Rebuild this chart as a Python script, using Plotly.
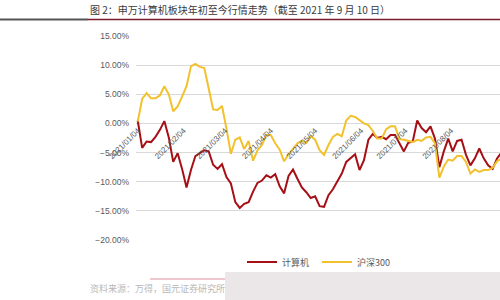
import plotly.graph_objects as go

dates = [
    "2021-01-04", "2021-01-07", "2021-01-10", "2021-01-13", "2021-01-16", "2021-01-19",
    "2021-01-22", "2021-01-25", "2021-01-28", "2021-01-31", "2021-02-03", "2021-02-06",
    "2021-02-09", "2021-02-12", "2021-02-15", "2021-02-18", "2021-02-21", "2021-02-24",
    "2021-02-27", "2021-03-02", "2021-03-05", "2021-03-08", "2021-03-11", "2021-03-14",
    "2021-03-17", "2021-03-20", "2021-03-23", "2021-03-26", "2021-03-29", "2021-04-01",
    "2021-04-04", "2021-04-07", "2021-04-10", "2021-04-13", "2021-04-16", "2021-04-19",
    "2021-04-22", "2021-04-25", "2021-04-28", "2021-05-01", "2021-05-04", "2021-05-07",
    "2021-05-10", "2021-05-13", "2021-05-16", "2021-05-19", "2021-05-22", "2021-05-25",
    "2021-05-28", "2021-05-31", "2021-06-03", "2021-06-06", "2021-06-09", "2021-06-12",
    "2021-06-15", "2021-06-18", "2021-06-21", "2021-06-24", "2021-06-27", "2021-06-30",
    "2021-07-03", "2021-07-06", "2021-07-09", "2021-07-12", "2021-07-15", "2021-07-18",
    "2021-07-21", "2021-07-24", "2021-07-27", "2021-07-30", "2021-08-02", "2021-08-05",
    "2021-08-08", "2021-08-11", "2021-08-14", "2021-08-17", "2021-08-20", "2021-08-23",
    "2021-08-26", "2021-08-29", "2021-09-01", "2021-09-04", "2021-09-07", "2021-09-10",
]

computer = [
    0.5, -4.2, -3.1, -3.2, -2.3, -1.1, 0.4, -2.4, -6.6, -5.1, -7.8, -11.0,
    -8.0, -5.6, -5.1, -4.6, -4.8, -7.1, -7.8, -7.0, -9.2, -10.3, -13.5, -14.5,
    -13.8, -13.5, -11.7, -10.2, -9.8, -8.9, -9.3, -8.7, -10.8, -12.0, -9.0, -7.9,
    -9.5, -11.0, -11.8, -12.8, -12.5, -14.2, -14.3, -12.3, -11.3, -10.0, -8.6, -6.6,
    -6.0, -5.3, -8.0, -6.3, -2.8, -1.8, -2.5, -2.3, -2.7, -2.0, -2.0, -3.4,
    -4.8, -3.3, -3.1, 0.5, -0.8, -1.5, -0.5, -2.6, -7.5, -4.8, -2.6, -4.8,
    -3.0, -2.8, -5.4, -7.2, -6.0, -4.3, -6.0, -7.2, -7.8, -6.0, -5.0, -4.5,
]

hs300 = [
    0.3, 4.2, 5.2, 4.3, 4.3, 4.8, 6.4, 5.0, 2.1, 2.9, 4.6, 6.4,
    9.8, 10.2, 9.7, 9.5, 6.0, 2.4, 2.3, 3.0, -0.9, -5.2, -2.8, -2.4,
    -4.4, -3.0, -6.4, -4.6, -3.7, -2.0, -2.0, -3.4, -4.5, -6.5, -5.3, -4.4,
    -3.4, -3.0, -3.3, -2.2, -2.8, -4.6, -5.4, -3.7, -2.3, -1.8, -2.2, 0.5,
    1.3, 1.1, 0.5, 0.0, -0.3, -1.3, -2.6, -2.6, -1.0, -0.5, -0.5, -2.7,
    -2.8, -3.0, -3.2, -2.8, -3.0, -2.4, -2.3, -3.4, -9.3, -7.4, -6.2, -6.4,
    -5.6, -5.6, -6.6, -8.6, -7.9, -8.3, -8.0, -8.0, -7.6, -6.5, -6.0, -5.8,
]

series_names = ["计算机", "沪深300"]
title_text = "图 2：申万计算机板块年初至今行情走势（截至 2021 年 9 月 10 日）"
source_text = "资料来源：万得，国元证券研究所"

W, H = 500, 300
ML, MR, MT, MB = 136, 0, 36, 60
PW, PH = W - ML - MR, H - MT - MB


def px_x(px):
    return (px - ML) / PW


def px_y(py):
    return (H - MB - py) / PH


fig = go.Figure()
fig.add_trace(go.Scatter(x=dates, y=computer, name=series_names[0], mode="lines",
                         line=dict(color="#a50f15", width=2)))
fig.add_trace(go.Scatter(x=dates, y=hs300, name=series_names[1], mode="lines",
                         line=dict(color="#f2c12e", width=2)))

ymin, ymax = -20, 15
fig.update_layout(
    width=W, height=H,
    margin=dict(l=ML, r=MR, t=MT, b=MB),
    paper_bgcolor="white", plot_bgcolor="white",
    font=dict(family="Noto Sans CJK SC, Noto Sans, sans-serif", color="#595959"),
    showlegend=True,
    legend=dict(orientation="h", x=px_x(242), y=px_y(262), xanchor="left", yanchor="middle",
                entrywidth=30, entrywidthmode="pixels",
                font=dict(size=9, color="#595959"), bgcolor="rgba(0,0,0,0)"),
    xaxis=dict(type="date", range=["2021-01-02 20:00", "2021-09-06"],
               tickformat="%Y/%m/%d", dtick="M1", tick0="2021-01-04",
               tickangle=-45, showgrid=False, zeroline=False, showline=False,
               ticks="", anchor="free", position=(0 - ymin) / (ymax - ymin),
               tickfont=dict(size=8, color="#595959", family="Liberation Sans, sans-serif")),
    yaxis=dict(range=[ymin, ymax], dtick=5, tick0=0, tickformat=".2f", ticksuffix="%",
               showgrid=True, gridcolor="#d9d9d9", gridwidth=1, zeroline=False,
               showline=False, ticks="", ticklabelstandoff=6,
               tickfont=dict(size=8.5, color="#595959", family="Liberation Sans, sans-serif")),
)

shapes = [
    dict(type="line", xref="paper", yref="paper", x0=px_x(0), x1=px_x(88),
         y0=px_y(19.5), y1=px_y(19.5), line=dict(color="#555555", width=2)),
    dict(type="line", xref="paper", yref="paper", x0=px_x(88), x1=px_x(500),
         y0=px_y(19.5), y1=px_y(19.5), line=dict(color="#7a1a28", width=1.5)),
    dict(type="line", xref="paper", yref="paper", x0=px_x(150), x1=px_x(225),
         y0=px_y(279), y1=px_y(279), line=dict(color="#e8b8c0", width=1.5)),
    dict(type="rect", xref="paper", yref="paper", x0=px_x(225), x1=px_x(500),
         y0=px_y(300), y1=px_y(272), line=dict(width=0), fillcolor="#ebe6e8", layer="above"),
]
fig.update_layout(shapes=shapes)

fig.add_annotation(text=title_text, xref="paper", yref="paper", x=px_x(88), y=px_y(9.5),
                   xanchor="left", yanchor="middle", showarrow=False,
                   font=dict(size=10, color="#3a3a3a", family="Noto Sans CJK SC"))
fig.add_annotation(text=source_text, xref="paper", yref="paper", x=px_x(88), y=px_y(288),
                   xanchor="left", yanchor="middle", showarrow=False,
                   font=dict(size=9, color="#b8b8b8", family="Noto Sans CJK SC"))

fig.write_html("out.html")
